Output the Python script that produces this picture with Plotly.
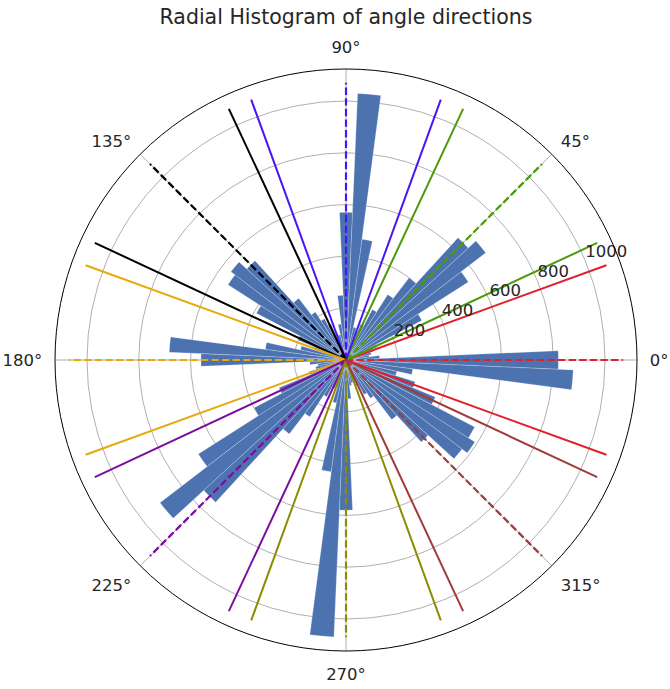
import plotly.graph_objects as go

# Histogram of angle directions, 5 degree bins centred on multiples of 5
bin_centers = list(range(0, 360, 5))
counts = [
    820, 130, 90, 100, 110, 130, 330, 560, 680, 640,    # 0 - 45
    400, 300, 220, 150, 120, 130, 470, 1030, 570, 250,  # 50 - 95
    140, 100, 110, 150, 180, 220, 300, 520, 560, 540,   # 100 - 145
    390, 200, 130, 180, 314, 683, 560, 140, 110, 120,   # 150 - 195
    150, 280, 400, 676, 905, 745, 360, 260, 160, 120,   # 200 - 245
    110, 170, 435, 1070, 580, 150, 100, 90, 90, 110,    # 250 - 295
    150, 175, 290, 430, 565, 590, 560, 373, 280, 200,   # 300 - 345
    260, 878,                                           # 350 - 355
]
bin_width = 5

# Reference directions (dashed) with +/- tolerance boundaries (solid)
directions = [0, 45, 90, 135, 180, 225, 270, 315]
direction_colors = ["#e0202a", "#4c9a0a", "#4a14f5", "#000000",
                    "#e8a80c", "#7b0e9e", "#8c8c00", "#9e3c3c"]
tolerance = 20

radial_ticks = [200, 400, 600, 800, 1000]
angle_ticks = [0, 45, 90, 135, 180, 225, 270, 315]
angle_labels = [f"{a}°" for a in angle_ticks]

r_max = max(counts)
font = "DejaVu Sans"

fig = go.Figure()

fig.add_trace(go.Barpolar(
    r=counts,
    theta=bin_centers,
    width=[bin_width] * len(counts),
    marker=dict(color="#4c72b0",
                line=dict(color="rgba(255,255,255,0.4)", width=0.6)),
    showlegend=False,
    hoverinfo="skip",
))

for d, c in zip(directions, direction_colors):
    fig.add_trace(go.Scatterpolar(
        r=[0, r_max], theta=[d, d], mode="lines",
        line=dict(color=c, width=2.2, dash="7.4px,3.2px"),
        showlegend=False, hoverinfo="skip",
    ))
    for a in (d - tolerance, d + tolerance):
        fig.add_trace(go.Scatterpolar(
            r=[0, r_max], theta=[a, a], mode="lines",
            line=dict(color=c, width=2),
            showlegend=False, hoverinfo="skip",
        ))

# Radial tick labels along 22.5 degrees
fig.add_trace(go.Scatterpolar(
    r=radial_ticks, theta=[22.5] * len(radial_ticks), mode="text",
    text=[str(v) for v in radial_ticks], textposition="top right",
    textfont=dict(family=font, size=16.5, color="#262626"),
    showlegend=False, hoverinfo="skip",
))

fig.update_layout(
    width=670, height=689,
    margin=dict(l=0, r=0, t=0, b=0),
    paper_bgcolor="white",
    title=dict(text="Radial Histogram of angle directions",
               x=346 / 670, xanchor="center",
               y=1 - 17 / 689, yanchor="middle", yref="container",
               font=dict(family=font, size=20.5, color="#262626")),
    polar=dict(
        domain=dict(x=[55 / 670, 637 / 670], y=[38 / 689, 620 / 689]),
        bgcolor="white",
        bargap=0,
        radialaxis=dict(range=[0, r_max * 1.05], tickvals=radial_ticks,
                        showticklabels=False, ticks="", showline=False,
                        gridcolor="#b0b0b0", gridwidth=0.8),
        angularaxis=dict(tickvals=angle_ticks, ticktext=angle_labels,
                         direction="counterclockwise", rotation=0,
                         ticks="outside", ticklen=9,
                         tickcolor="rgba(0,0,0,0)",
                         showline=True, linecolor="#000000",
                         linewidth=1, gridcolor="#b0b0b0", gridwidth=0.8,
                         tickfont=dict(family=font, size=16.5, color="#262626")),
    ),
)

fig.write_html("out.html")
